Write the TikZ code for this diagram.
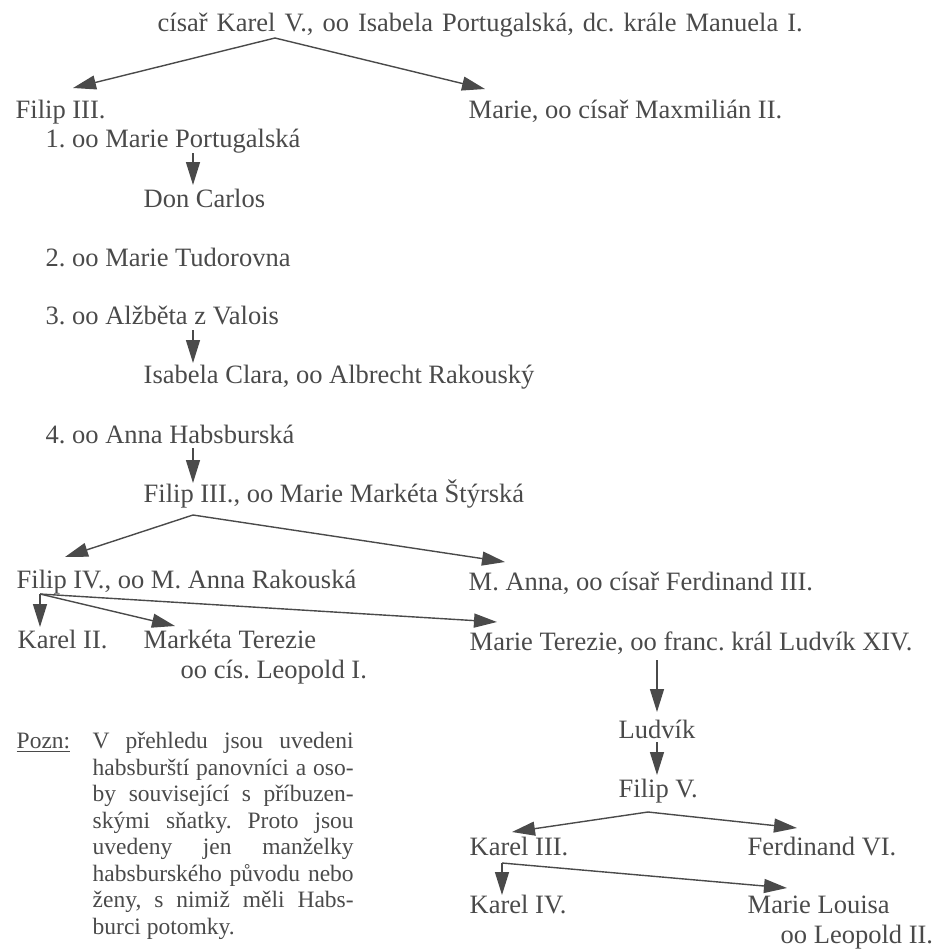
\documentclass[tikz,border=0pt]{standalone}
\usepackage{fontspec}
\setmainfont{Liberation Serif}
\usepackage{tikz}
\usetikzlibrary{arrows.meta, calc}
\definecolor{ink}{HTML}{4A4A4A}
\newcommand{\widespaces}{\frenchspacing\spaceskip 0.25em plus 1em\relax}
\tikzset{
    >={Triangle[length=11.5pt, width=7pt]}, % filled heads as in the scan
    ->, % every connector points to the descendant
    person/.style={anchor=base west, inner sep=0pt, text=ink, font={\fontsize{13.25}{15}\selectfont\widespaces}}, % one name per node
    remark/.style={anchor=base west, inner sep=0pt, text=ink, font={\fontsize{11.75}{13.25}\selectfont\widespaces}}, % the note at the bottom
    notebox/.style={remark, anchor=north west, text width=130.5pt}, % justified paragraph
}
\newcommand{\fullline}[1]{\makebox[130.5pt][s]{#1}}

\begin{document}
\begin{tikzpicture}[x=0.5pt, y=-0.5pt, ink, line width=0.7pt
                  ]
                  \useasboundingbox (0,0) rectangle (933,949);
                  \node[person] (karel5) at (157,31) {\makebox[322.5pt][s]{císař Karel V., oo Isabela Portugalská, dc. krále Manuela I.}};
                  \node[person] (filip3) at (15,118) {Filip III.};
                  \node[person] (marie) at (468,118) {Marie, oo císař Maxmilián II.};
                  \node[person] (wife1) at (45,147) {1. oo Marie Portugalská};
                  \node[person] (carlos) at (143,207) {Don Carlos};
                  \node[person] (wife2) at (45,266) {2. oo Marie Tudorovna};
                  \node[person] (wife3) at (45,324) {3. oo Alžběta z Valois};
                  \node[person] (isabela) at (143,383) {Isabela Clara, oo Albrecht Rakouský};
                  \node[person] (wife4) at (45,443) {4. oo Anna Habsburská};
                  \node[person] (filip3b) at (143,502) {Filip III., oo Marie Markéta Štýrská};
                  \node[person] (filip4) at (16,588) {Filip IV., oo M. Anna Rakouská};
                  \node[person] (manna) at (468,590) {M. Anna, oo císař Ferdinand III.};
                  \node[person] (karel2) at (17,648) {Karel II.};
                  \node[person] (marketa) at (143,648) {Markéta Terezie};
                  \node[person] (marketaB) at (180,678) {oo cís. Leopold I.};
                  \node[person] (terezie) at (469,650) {Marie Terezie, oo franc. král Ludvík XIV.};
                  \node[person] (ludvik) at (618,738) {Ludvík};
                  \node[person] (filip5) at (618,797) {Filip V.};
                  \node[person] (karel3) at (469,855) {Karel III.};
                  \node[person] (ferd6) at (747,855) {Ferdinand VI.};
                  \node[person] (karel4) at (469,913) {Karel IV.};
                  \node[person] (louisa) at (747,913) {Marie Louisa};
                  \node[person] (louisaB) at (780,943) {oo Leopold II.};
                  % note
                  \node[remark] (pozn) at (16,748) {\underline{Pozn:}};
                  \node[notebox] (note) at (92,729.5) {\widespaces\strut\fullline{V přehledu jsou uvedeni}\\
                      \fullline{habsburští panovníci a oso-}\\
                      \fullline{by související s příbuzen-}\\
                      \fullline{skými sňatky. Proto jsou}\\
                      \fullline{uvedeny jen manželky}\\
                      \fullline{habsburského původu nebo}\\
                      \fullline{ženy, s nimiž měli Habs-}\\
                      burci potomky.};
                  % fork points
                  \coordinate (k5) at ($(karel5.base west)+(118,7)$);
                  \coordinate (f3) at ($(filip3b.base west)+(50,13)$);
                  \coordinate (f4) at ($(filip4.base west)+(24,6)$);
                  \coordinate (f5) at ($(filip5.base west)+(30,15)$);
                  \coordinate (k3) at ($(karel3.base west)+(33,8)$);
                  \path
                  (k5) edge ($(filip3.base west)+(58,-30)$)
                  (k5) edge ($(marie.base west)+(17,-29)$)
                  ($(wife1.base west)+(148,6)$) edge ($(carlos.base west)+(50,-22)$)
                  ($(wife3.base west)+(148,6)$) edge ($(isabela.base west)+(50,-20)$)
                  ($(wife4.base west)+(148,5)$) edge ($(filip3b.base west)+(50,-19)$)
                  (f3) edge ($(filip4.base west)+(49,-31)$)
                  (f3) edge ($(manna.base west)+(37,-28)$)
                  (f4) edge ($(karel2.base west)+(23,-21)$)
                  (f4) edge ($(marketa.base west)+(32,-22)$)
                  (f4) edge ($(terezie.base west)+(28,-28)$)
                  ($(terezie.base west)+(188,10)$) edge ($(ludvik.base west)+(39,-26)$)
                  ($(ludvik.base west)+(39,4)$) edge ($(filip5.base west)+(39,-22)$)
                  (f5) edge ($(karel3.base west)+(43,-23)$)
                  (f5) edge ($(ferd6.base west)+(50,-27)$)
                  (k3) edge ($(karel4.base west)+(33,-18)$)
                  (k3) edge ($(louisa.base west)+(40,-25)$);
              \end{tikzpicture}
\end{document}
